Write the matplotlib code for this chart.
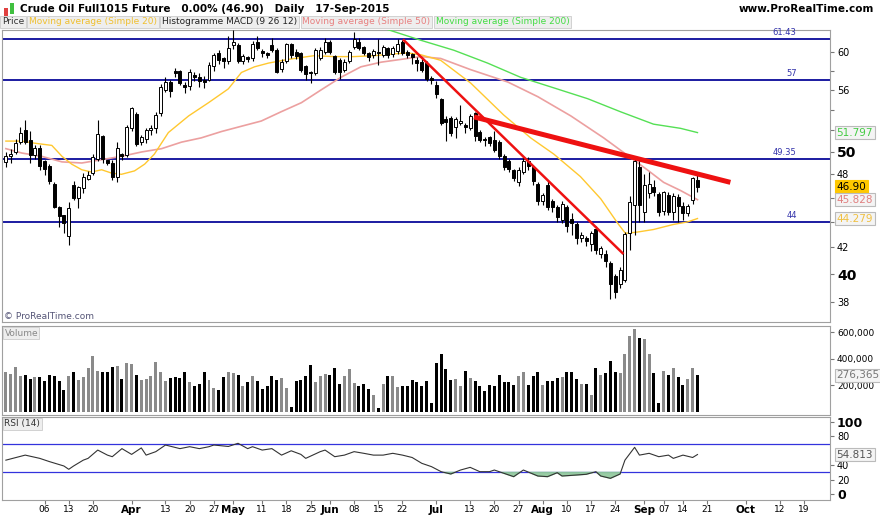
import numpy as np
import pandas as pd
import matplotlib
matplotlib.use("Agg")
import matplotlib.pyplot as plt
from matplotlib.ticker import FixedLocator, NullLocator

# ---------------- data ----------------
opens = [49.1,49.6,50.0,50.9,52.0,51.1,49.7,50.3,49.1,48.7,47.1,45.2,44.5,42.9,47.0,46.0,46.8,47.6,48.1,49.4,
         51.4,49.2,49.0,47.8,49.8,49.7,52.2,53.5,50.9,51.2,52.0,52.2,53.7,56.0,56.8,57.9,57.9,56.5,56.4,57.5,
         57.3,57.0,57.0,58.5,59.8,59.3,59.0,60.8,60.7,59.0,59.4,59.3,61.1,60.1,59.8,60.7,60.2,58.2,59.0,60.8,
         60.0,59.9,58.4,57.8,57.7,59.4,60.0,61.1,59.5,59.1,58.1,59.0,60.5,61.1,60.5,59.9,59.7,60.0,59.7,60.4,
         59.8,60.1,61.1,60.0,59.7,59.1,58.9,58.8,57.2,56.5,55.0,53.1,53.2,52.3,52.7,52.5,52.2,53.6,51.8,51.2,
         51.3,51.1,50.9,49.6,49.1,48.3,47.3,48.2,49.1,48.6,47.1,45.7,47.0,45.7,45.2,44.2,45.2,44.2,43.8,42.7,
         42.7,42.3,43.4,41.5,41.5,40.8,39.8,39.3,39.6,43.1,45.4,48.6,44.8,46.4,46.9,46.3,44.9,46.2,44.8,46.0,
         45.3,44.7,45.8,47.5]
closes = [49.6,49.8,50.8,51.7,50.9,49.7,50.3,48.7,48.5,47.4,45.2,44.5,43.9,45.1,46.0,46.9,47.7,47.9,49.5,51.6,
          49.4,49.0,47.8,50.3,49.6,52.3,54.1,50.7,51.3,52.0,52.2,53.4,56.3,56.8,55.9,57.7,56.7,56.3,57.8,57.3,
          56.9,56.8,58.6,59.6,59.1,59.0,60.4,61.1,59.0,59.5,59.2,60.8,60.4,59.9,59.7,60.2,57.9,58.9,60.8,59.7,
          59.6,58.1,57.6,57.7,60.2,60.2,61.1,60.0,57.9,57.9,58.9,60.0,61.4,60.4,59.9,59.5,60.1,59.9,60.5,59.7,
          60.4,60.9,59.9,59.7,59.5,58.8,58.1,57.1,57.0,55.6,52.7,52.8,51.8,53.1,52.9,52.3,53.3,51.5,51.1,51.1,
          50.8,50.2,49.6,48.6,48.5,47.7,48.3,49.1,48.7,47.4,45.7,46.2,45.2,45.2,44.4,45.4,43.7,43.9,42.7,42.9,
          42.5,43.1,41.8,41.9,41.0,39.3,38.7,40.3,43.0,45.6,49.1,45.4,47.0,47.1,46.5,44.8,46.4,44.8,46.1,45.3,
          44.7,45.3,47.6,46.9]
highs = [50.0,50.3,51.2,52.3,53.0,51.9,50.6,50.6,49.3,48.9,47.3,45.3,44.6,45.6,47.4,47.0,48.1,48.3,49.8,53.0,
         51.6,49.3,49.3,50.9,49.9,52.5,54.3,53.8,51.6,52.2,52.5,53.8,56.6,57.3,57.0,58.3,58.1,56.8,58.2,57.9,
         57.7,57.4,58.9,59.9,60.2,59.5,61.8,62.5,61.0,59.8,59.6,61.2,61.8,60.3,60.0,61.5,60.4,59.2,61.0,61.0,
         60.3,60.0,58.6,58.0,60.4,60.5,61.6,61.3,59.7,59.3,59.2,60.2,62.2,61.5,60.7,60.0,60.3,61.4,60.8,60.6,
         60.7,61.4,61.3,60.2,59.9,59.5,59.2,59.0,57.4,56.9,55.2,53.4,53.4,53.3,54.5,52.7,53.6,53.8,52.0,51.4,
         51.5,51.9,51.1,49.8,49.4,48.5,48.6,49.6,49.5,48.8,47.3,46.4,47.5,45.9,45.4,45.7,45.4,44.7,44.0,43.2,
         42.9,43.3,43.7,42.1,41.8,41.0,40.0,40.5,43.2,46.1,49.5,49.3,48.0,48.2,47.5,46.5,46.6,46.5,46.4,46.3,
         45.6,45.5,47.8,47.9]
lows = [48.6,49.0,49.8,50.7,50.7,49.0,49.4,48.4,47.9,47.2,45.1,43.6,43.1,42.2,45.8,45.1,46.4,47.5,47.9,49.2,
        49.0,48.8,47.5,47.3,49.3,49.5,51.9,50.5,50.6,50.8,51.6,51.8,53.4,55.8,55.3,57.3,56.5,55.7,56.0,56.9,
        56.3,56.2,56.9,58.0,58.7,58.3,58.7,60.3,58.8,58.7,58.9,59.0,60.2,59.5,59.3,60.0,57.7,57.8,58.8,59.4,
        59.2,57.9,57.0,56.7,57.5,59.1,59.8,59.8,57.6,57.1,57.9,58.8,60.3,60.2,59.7,59.0,59.3,58.6,59.5,59.4,
        59.5,59.8,59.7,59.3,58.7,58.0,57.8,56.9,56.6,55.2,52.5,51.0,51.5,51.3,52.5,51.8,52.0,51.0,50.9,50.5,
        50.5,50.0,49.4,48.4,48.2,47.4,47.0,48.0,48.4,47.1,45.4,45.4,45.0,44.8,44.0,43.9,43.2,43.0,42.3,42.4,
        42.1,41.7,41.5,41.2,40.5,38.2,38.3,39.0,39.4,41.8,43.0,44.0,44.0,46.0,46.1,44.5,44.6,44.6,44.2,44.0,
        44.2,44.5,45.5,46.5]
volumes_k = [297,285,340,272,280,247,260,265,234,277,267,232,164,267,297,242,260,328,423,310,
             297,302,338,343,247,365,360,277,242,247,267,373,302,234,252,260,252,302,229,197,
             214,297,239,179,166,265,300,290,277,197,229,267,232,171,192,267,239,252,179,40,
             234,239,267,353,227,272,285,277,330,207,267,320,217,197,207,176,129,33,207,272,
             272,189,194,197,239,229,197,234,71,365,436,320,242,247,197,310,257,232,197,159,
             202,192,280,229,222,204,272,302,202,272,297,202,234,234,255,260,297,297,247,209,
             209,126,328,277,292,386,302,290,436,570,625,557,549,436,292,66,305,277,328,260,
             204,247,328,277]

sma20_idx = [0,3.3,6.0,9.5,11.6,13.6,15.7,17.7,19.8,21.9,23.9,26.6,28.7,30.7,33.6,37.8,41.9,46.0,48.7,51.4,
             54.3,58.4,63.7,67.9,72.0,76.1,80.3,83.1,85.8,89.9,96.1,102.9,108.5,113.3,118.8,123.0,126.5,128.1,
             130.6,133.9,138.0,140.9,143.0]
sma20_val = [51.0,51.0,50.8,50.6,49.6,48.9,48.4,48.2,48.4,48.1,48.0,48.3,48.9,49.8,51.8,53.4,54.7,56.1,57.8,58.4,
             58.8,59.2,59.6,59.5,59.5,59.6,59.8,59.9,59.7,59.1,56.7,53.5,51.3,49.8,47.8,45.9,43.9,43.1,
             43.2,43.4,43.8,44.0,44.279]
sma50_idx = [0,3.3,7.4,11.6,15.7,19.8,23.9,28.1,32.2,36.3,40.4,44.6,48.7,52.8,56.9,61.1,65.2,69.3,73.4,77.6,
             81.7,85.8,89.9,96.1,103.8,110.0,116.8,123.6,128.5,132.6,136.0,139.5,143.0]
sma50_val = [50.3,49.9,49.6,49.1,49.0,49.3,49.6,50.0,50.3,50.9,51.3,51.9,52.4,52.9,53.8,54.7,56.0,57.3,58.4,58.9,
             59.2,59.5,59.3,58.1,56.8,55.3,53.4,51.3,49.7,48.4,47.3,46.6,45.828]
sma200_idx = [79.0,85.8,92.6,99.6,106.4,113.3,120.3,127.1,133.9,139.5,143.0]
sma200_val = [62.5,61.3,60.2,58.8,57.3,56.2,55.1,53.8,52.6,52.2,51.797]

rsi_idx = [0,4,7,9,12,13,14,16,17,19,21,22,24,26,28,29,31,33,36,38,40,42,43,46,48,50,51,53,55,57,59,61,62,65,66,
           68,70,72,74,76,78,80,82,84,86,88,90,92,94,96,98,100,101,104,105,107,110,112,114,115,118,120,122,123,
           125,127,128,130,131,133,135,137,138,140,142,143]
rsi_val = [47,54,49.5,45,38.9,34.3,38.9,47,49.5,61,54,51.8,63,55,64,54,58.8,68,63,65.7,63,65.7,68,66,70.4,63,65.7,
           61,63,54,60,55,49.5,58.8,61,51.8,54,58.8,56.5,54,54,56.5,54,50.7,42.6,38,31,27.8,33.3,37,31,31,33.3,
           26.4,24.1,33.3,25,24.1,29.6,25,26.4,27.4,31,25,21.8,27.8,47,64.8,54,56.5,51.8,54,49.5,54,50.7,54.813]

levels = [61.43, 57, 49.35, 44]
level_labels = ["61.43", "57", "49.35", "44"]
trend1_idx = [82.1, 127.7]; trend1_val = [61.4, 41.5]
trend2_idx = [96.8, 149.8]; trend2_val = [53.3, 47.3]

holidays = ["2015-04-03", "2015-05-25", "2015-07-03", "2015-09-07"]
tick_dates = ["2015-03-06","2015-03-13","2015-03-20","2015-04-01","2015-04-13","2015-04-20","2015-04-27",
              "2015-05-01","2015-05-11","2015-05-18","2015-05-26","2015-06-01","2015-06-08","2015-06-15",
              "2015-06-22","2015-07-01","2015-07-13","2015-07-20","2015-07-27","2015-08-03","2015-08-10",
              "2015-08-17","2015-08-24","2015-09-01","2015-09-08","2015-09-14","2015-09-21","2015-10-01",
              "2015-10-12","2015-10-19"]
tick_labels = ["06","13","20","Apr","13","20","27","May","11","18","25","Jun","08","15","22","Jul","13","20",
               "27","Aug","10","17","24","Sep","07","14","21","Oct","12","19"]

# ---------------- dates ----------------
n = len(closes)
alld = pd.bdate_range("2015-02-01", "2015-11-30")
alld = alld[~alld.isin(pd.to_datetime(holidays))]
end_pos = alld.get_loc(pd.Timestamp("2015-09-17"))
start_pos = end_pos - (n - 1)
tick_pos = [alld.searchsorted(pd.Timestamp(d)) - start_pos for d in tick_dates]

idx = np.arange(n)
O = np.array(opens); C = np.array(closes); H = np.array(highs); L = np.array(lows)
up = C >= O

W, Hh = 880, 516
fig = plt.figure(figsize=(8.8, 5.16), dpi=100)
fig.patch.set_facecolor("white")

def ax_at(top, bottom):
    return fig.add_axes([2 / W, 1 - bottom / Hh, 828 / W, (bottom - top) / Hh])

ax = ax_at(30, 322)
axv = ax_at(326, 415)
axr = ax_at(417, 500)
xl = (-0.8, 170.4)
for a in (ax, axv, axr):
    a.set_xlim(*xl)
    for s in a.spines.values():
        s.set_color("#a0a0a0"); s.set_linewidth(0.8)
    a.yaxis.tick_right()
    a.tick_params(axis="y", labelsize=7, length=3, color="#777777", pad=2)
    a.set_xticks(tick_pos)
    a.tick_params(axis="x", length=0)
    a.set_xticklabels([])

# main panel
ax.set_yscale("log")
ax.set_ylim(36.66, 62.46)
for lv, lb in zip(levels, level_labels):
    ax.axhline(lv, color="#0a0a9a", lw=1.3, zorder=2)
    ax.text(163.5, lv * 1.003, lb, color="#3333aa", fontsize=6, ha="right", va="bottom")
ax.plot(sma200_idx, sma200_val, color="#55e055", lw=1.0, zorder=3)
ax.plot(sma50_idx, sma50_val, color="#eca0a0", lw=1.2, zorder=3)
ax.plot(sma20_idx, sma20_val, color="#ffc830", lw=1.0, zorder=3)
ax.vlines(idx, L, H, color="black", lw=0.8, zorder=4)
ax.bar(idx, np.abs(C - O) + 0.04, bottom=np.minimum(O, C), width=0.62,
       color=np.where(up, "white", "black"), edgecolor="black", linewidth=0.7, zorder=5)
ax.plot(trend1_idx, trend1_val, color="#ee1111", lw=1.8, zorder=6, solid_capstyle="butt")
ax.plot(trend2_idx, trend2_val, color="#ee1111", lw=3.6, zorder=6, solid_capstyle="butt")
ax.yaxis.set_major_locator(FixedLocator([38, 40, 42, 44, 46, 48, 50, 52, 54, 56, 58, 60]))
ax.yaxis.set_minor_locator(NullLocator())
ax.set_yticklabels(["38", "40", "42", "", "", "48", "50", "", "", "56", "", "60"])
for t in ax.get_yticklabels():
    if t.get_text() in ("40", "50"):
        t.set_fontsize(10); t.set_fontweight("bold")

def tag(a, y, txt, fc, tc, ec="#bbbbbb"):
    a.text(1.008, y, txt, transform=a.get_yaxis_transform(), fontsize=7.5, color=tc, va="center", ha="left",
           bbox=dict(boxstyle="square,pad=0.15", fc=fc, ec=ec, lw=0.8), clip_on=False)

tag(ax, sma200_val[-1], "51.797", "#f4f4f4", "#44cc44")
tag(ax, closes[-1], "46.90", "#ffc800", "black", "#ffc800")
tag(ax, sma50_val[-1], "45.828", "#f4f4f4", "#e08080")
tag(ax, sma20_val[-1], "44.279", "#f4f4f4", "#f0c040")
ax.text(0.003, 0.005, "© ProRealTime.com", transform=ax.transAxes, fontsize=6.5, color="#555577", va="bottom")

# volume
vol = np.array(volumes_k) * 1000
axv.bar(idx, vol, width=0.62, color=np.where(up, "#8a8a8a", "black"), zorder=3)
axv.set_ylim(-22000, 645000)
axv.yaxis.set_major_locator(FixedLocator([200000, 400000, 600000]))
axv.set_yticklabels(["200,000", "400,000", "600,000"])
axv.tick_params(axis="y", labelsize=6.5)
tag(axv, vol[-1], "276,365", "#f4f4f4", "#777777")
axv.text(0.003, 0.97, "Volume", transform=axv.transAxes, fontsize=6.5, color="#888888", va="top",
         bbox=dict(boxstyle="square,pad=0.15", fc="#eeeeee", ec="#cccccc", lw=0.6))

# RSI
axr.set_ylim(-8.3, 106.9)
axr.axhline(70, color="#3333dd", lw=0.9)
axr.axhline(30, color="#3333dd", lw=0.9)
rv = np.array(rsi_val); ri = np.array(rsi_idx, dtype=float)
axr.fill_between(ri, rv, 30, where=rv < 30, interpolate=True, color="#8ec89a", alpha=0.9, zorder=2)
axr.plot(ri, rv, color="#333333", lw=0.8, zorder=3)
axr.yaxis.set_major_locator(FixedLocator([0, 20, 40, 80, 100]))
axr.set_yticklabels(["0", "20", "40", "80", "100"])
for t in axr.get_yticklabels():
    if t.get_text() in ("0", "100"):
        t.set_fontsize(9); t.set_fontweight("bold")
tag(axr, rsi_val[-1], "54.813", "#f4f4f4", "#555555")
axr.text(0.003, 0.97, "RSI (14)", transform=axr.transAxes, fontsize=6.5, color="#333333", va="top",
         bbox=dict(boxstyle="square,pad=0.15", fc="#eeeeee", ec="#cccccc", lw=0.6))

# x labels
axr.tick_params(axis="x", length=3, color="#777777", pad=0.5)
axr.set_xticklabels(tick_labels, fontsize=6.5)
for t in axr.get_xticklabels():
    if t.get_text().isalpha():
        t.set_fontweight("bold"); t.set_fontsize(7.5)

# header
fig.text(20 / W, 1 - 9 / Hh, "Crude Oil Full1015 Future   0.00% (46.90)   Daily   17-Sep-2015",
         fontsize=7.5, fontweight="bold", va="center", ha="left")
fig.text(874 / W, 1 - 9 / Hh, "www.ProRealTime.com", fontsize=7.5, fontweight="bold", va="center", ha="right")
fig.patches.append(plt.Rectangle((4 / W, 1 - 16 / Hh), 4 / W, 8 / Hh, transform=fig.transFigure,
                                 fc="#e04040", ec="none"))
fig.patches.append(plt.Rectangle((10 / W, 1 - 14 / Hh), 4 / W, 11 / Hh, transform=fig.transFigure,
                                 fc="#40c040", ec="none"))
legend_items = [("Price", "#333333"), ("Moving average (Simple 20)", "#f0c030"),
                ("Histogramme MACD (9 26 12)", "#222222"), ("Moving average (Simple 50)", "#e88080"),
                ("Moving average (Simple 200)", "#44dd44")]
xpos = 2
for txt, col in legend_items:
    t = fig.text(xpos / W, 1 - 22 / Hh, txt, fontsize=6.5, color=col, va="center", ha="left",
                 bbox=dict(boxstyle="square,pad=0.2", fc="#eeeeee", ec="#cccccc", lw=0.6))
    fig.canvas.draw()
    bb = t.get_window_extent()
    xpos = bb.x1 + 5

fig.savefig("out.png", dpi=100, facecolor="white")
